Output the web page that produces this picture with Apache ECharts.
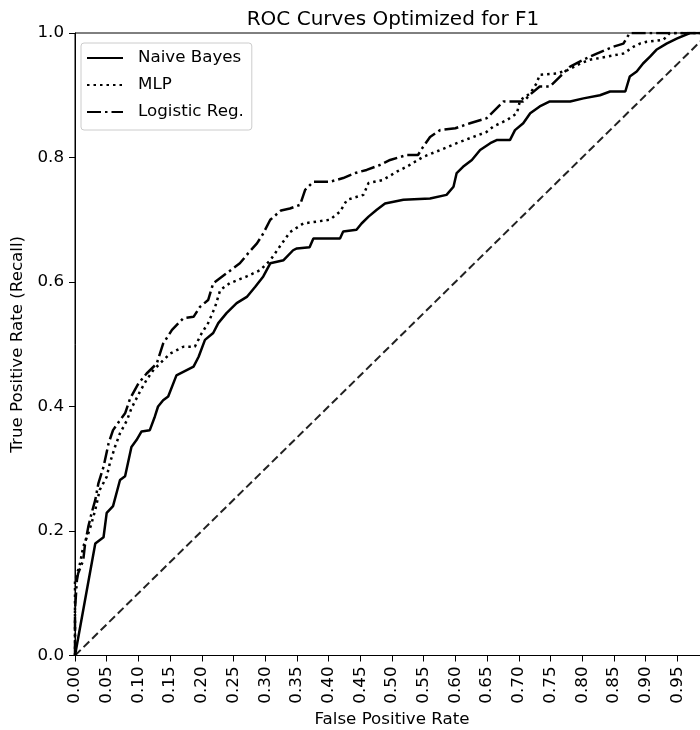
<!DOCTYPE html>
<html>
<head>
<meta charset="utf-8">
<script src="https://cdn.jsdelivr.net/npm/echarts@6/dist/echarts.min.js"></script>
<style>
html,body{margin:0;padding:0;background:#fff;}
#c{width:700px;height:730px;}
</style>
</head>
<body>
<div id="c"></div>
<script>
// ---- data ----
const xTickStep = 0.05;
const yTickStep = 0.2;

const nbFpr = [0,0.032,0.045,0.05,0.06,0.071,0.079,0.089,0.097,0.105,0.118,0.126,0.131,0.139,0.147,0.16,0.187,0.195,0.205,0.218,0.226,0.239,0.255,0.271,0.284,0.297,0.308,0.329,0.344,0.35,0.37,0.376,0.418,0.423,0.444,0.452,0.463,0.476,0.489,0.518,0.56,0.586,0.597,0.602,0.612,0.626,0.639,0.655,0.665,0.686,0.694,0.707,0.718,0.733,0.749,0.781,0.802,0.828,0.844,0.868,0.875,0.886,0.896,0.907,0.917,0.933,0.949,0.97,1];
const nbTpr = [0,0.18,0.19,0.229,0.24,0.282,0.288,0.335,0.346,0.36,0.362,0.384,0.40,0.41,0.416,0.45,0.464,0.48,0.507,0.518,0.534,0.55,0.566,0.576,0.592,0.609,0.63,0.635,0.651,0.654,0.656,0.67,0.67,0.681,0.684,0.694,0.705,0.716,0.726,0.732,0.734,0.74,0.753,0.775,0.785,0.796,0.812,0.823,0.828,0.828,0.844,0.855,0.871,0.882,0.89,0.89,0.895,0.9,0.906,0.906,0.93,0.938,0.951,0.962,0.973,0.983,0.991,1.0,1];

const mlpFpr = [0,0,0.008,0.013,0.021,0.026,0.032,0.039,0.05,0.055,0.063,0.071,0.082,0.089,0.103,0.113,0.124,0.15,0.171,0.189,0.2,0.21,0.221,0.229,0.244,0.271,0.292,0.308,0.323,0.339,0.36,0.402,0.418,0.429,0.455,0.463,0.486,0.507,0.523,0.549,0.576,0.602,0.628,0.649,0.66,0.681,0.697,0.702,0.718,0.728,0.733,0.76,0.776,0.797,0.812,0.839,0.865,0.881,0.891,0.902,0.928,0.938,1];
const mlpTpr = [0,0.12,0.148,0.175,0.196,0.212,0.234,0.266,0.287,0.309,0.335,0.357,0.378,0.397,0.425,0.443,0.459,0.485,0.496,0.496,0.518,0.534,0.56,0.587,0.598,0.609,0.619,0.635,0.657,0.68,0.694,0.70,0.713,0.732,0.74,0.759,0.764,0.777,0.785,0.801,0.812,0.823,0.833,0.841,0.85,0.86,0.871,0.892,0.903,0.919,0.933,0.935,0.94,0.951,0.957,0.962,0.967,0.978,0.983,0.986,0.989,1.0,1];

const lrFpr = [0,0,0.003,0.005,0.013,0.016,0.021,0.026,0.032,0.037,0.045,0.053,0.06,0.071,0.079,0.087,0.1,0.113,0.129,0.139,0.153,0.171,0.187,0.197,0.21,0.218,0.239,0.26,0.273,0.287,0.297,0.308,0.325,0.339,0.355,0.363,0.376,0.402,0.423,0.442,0.46,0.481,0.497,0.523,0.541,0.549,0.56,0.576,0.6,0.623,0.649,0.676,0.707,0.72,0.733,0.749,0.765,0.781,0.802,0.823,0.849,0.865,0.875,1];
const lrTpr = [0,0.073,0.121,0.132,0.153,0.18,0.207,0.228,0.25,0.277,0.303,0.341,0.362,0.378,0.389,0.413,0.437,0.453,0.469,0.501,0.523,0.542,0.544,0.56,0.571,0.598,0.614,0.63,0.646,0.662,0.678,0.70,0.715,0.718,0.724,0.748,0.761,0.761,0.767,0.775,0.78,0.788,0.796,0.804,0.804,0.817,0.833,0.844,0.847,0.855,0.863,0.89,0.89,0.903,0.914,0.914,0.93,0.946,0.957,0.967,0.978,0.983,1.0,1];

const chanceFpr = [0,1];
const chanceTpr = [0,1];

const seriesNames = ['Naive Bayes','MLP','Logistic Reg.'];
const titleText = 'ROC Curves Optimized for F1';
const xName = 'False Positive Rate';
const yName = 'True Positive Rate (Recall)';

function zip(a,b){return a.map((v,i)=>[v,b[i]]);}

const FONT = 'DejaVu Sans';
const chart = echarts.init(document.getElementById('c'), null, {renderer:'canvas'});
chart.setOption({
  animation:false,
  backgroundColor:'#fff',
  textStyle:{fontFamily:FONT},
  title:{
    text:titleText, left:388, textAlign:'center', top:5,
    textStyle:{fontFamily:FONT,fontSize:20,fontWeight:'normal',color:'#000'}
  },
  grid:{left:75, top:33, width:634, height:622.5, outerBoundsMode:'none', containLabel:false,
    show:true, borderColor:'#000', borderWidth:1, backgroundColor:'rgba(0,0,0,0)'},
  legend:{
    data:seriesNames, orient:'vertical', left:81, top:43,
    itemWidth:36, itemHeight:14, itemGap:7,
    padding:[5,8,8,5],
    backgroundColor:'#fff', borderColor:'#ccc', borderWidth:1, borderRadius:3,
    itemStyle:{opacity:0},
    textStyle:{fontFamily:FONT,fontSize:16.7,color:'#000',lineHeight:20,padding:[0,0,0,10]}
  },
  xAxis:{
    type:'value', min:0, max:1, interval:xTickStep,
    name:xName, nameLocation:'middle', nameGap:53,
    nameTextStyle:{fontFamily:FONT,fontSize:16.7,color:'#000'},
    axisLine:{show:true,onZero:false,lineStyle:{color:'#000',width:1}},
    axisTick:{show:true,length:6,lineStyle:{color:'#000'}},
    axisLabel:{rotate:90, margin:11, fontFamily:FONT, fontSize:16.7, color:'#000',
      formatter:v=>v.toFixed(2)},
    splitLine:{show:false}
  },
  yAxis:{
    type:'value', min:0, max:1, interval:yTickStep,
    name:yName, nameLocation:'middle', nameGap:48,
    nameTextStyle:{fontFamily:FONT,fontSize:16.7,color:'#000'},
    axisLine:{show:true,onZero:false,lineStyle:{color:'#000',width:1}},
    axisTick:{show:true,length:6,lineStyle:{color:'#000'}},
    axisLabel:{margin:11, fontFamily:FONT, fontSize:16.7, color:'#000',
      formatter:v=>v.toFixed(1)},
    splitLine:{show:false}
  },
  series:[
    {name:seriesNames[0], type:'line', data:zip(nbFpr,nbTpr), symbol:'none', z:3,
      lineStyle:{color:'#000', width:2.5, type:'solid'}, itemStyle:{color:'#000'}},
    {name:seriesNames[1], type:'line', data:zip(mlpFpr,mlpTpr), symbol:'none', z:3,
      lineStyle:{color:'#000', width:2.5, type:[2.5,4]}, itemStyle:{color:'#000'}},
    {name:seriesNames[2], type:'line', data:zip(lrFpr,lrTpr), symbol:'none', z:3,
      lineStyle:{color:'#000', width:2.5, type:[14,4,2.5,4]}, itemStyle:{color:'#000'}},
    {name:'chance', type:'line', data:zip(chanceFpr,chanceTpr), symbol:'none', z:2,
      lineStyle:{color:'#222', width:2, type:[8,4]}, itemStyle:{color:'#222'}}
  ]
});
</script>
</body>
</html>
